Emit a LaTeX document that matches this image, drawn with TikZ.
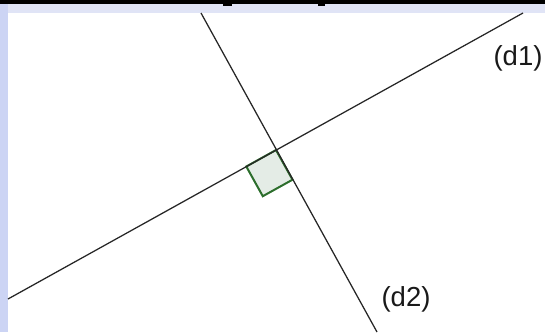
\documentclass[tikz,border=0pt]{standalone}
\usepackage{fontspec}
\setmainfont{Liberation Sans}
\definecolor{bandtop}{RGB}{224,228,246}
\definecolor{bandleft}{RGB}{204,212,244}
\definecolor{sqedge}{RGB}{44,110,44}
\definecolor{sqfill}{RGB}{228,236,230}
\begin{document}
\begin{tikzpicture}[x=1pt,y=-1pt,
  lineline/.style={draw=black!85, line width=1.25pt},
  anglemark/.style={draw=sqedge, line width=2pt, fill=sqfill, line join=miter},
  lbl/.style={font=\fontsize{27.5}{30}\selectfont, text=black!90, inner sep=0pt}]
\useasboundingbox (0,0) rectangle (545,332);
% slide background
\fill[white] (0,0) rectangle (545,332);
\fill[bandtop] (0,0) rectangle (545,13);
\fill[bandleft] (0,0) rectangle (8,332);
\fill[black] (0,0) rectangle (545,3.5);
\fill[black] (223,3) rectangle (232,6);
\fill[black] (318,3) rectangle (325,6);
% lines
\coordinate (d1a) at (8,299);
\coordinate (d1b) at (523,13);
\coordinate (d2a) at (201,13);
\coordinate (d2b) at (377,332);
\coordinate (I) at (276,150);
\draw[anglemark] (I) -- ++(16.5,29.7) -- ++(-29.7,16.5) -- ++(-16.5,-29.7) -- cycle;
\draw[lineline] (d1a) -- (d1b);
\draw[lineline] (d2a) -- (d2b);
% labels
\node[lbl] (l1) at (518,58) {(d1)};
\node[lbl] (l2) at (406,299) {(d2)};
\end{tikzpicture}
\end{document}
